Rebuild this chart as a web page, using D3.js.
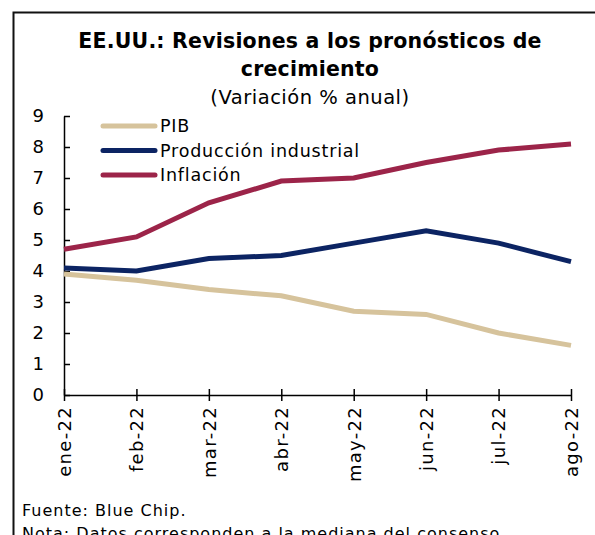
<!DOCTYPE html>
<html>
<head>
<meta charset="utf-8">
<script src="https://cdn.jsdelivr.net/npm/d3@7"></script>
<style>
  body { margin: 0; background: #fff; }
  svg { font-family: "DejaVu Sans", sans-serif; }
</style>
</head>
<body>
<svg id="chart" width="595" height="535"></svg>
<script>
// months on the x axis
const months = ['ene-22', 'feb-22', 'mar-22', 'abr-22', 'may-22', 'jun-22', 'jul-22', 'ago-22'];
// series values (% anual)
const pib = [3.9, 3.7, 3.4, 3.2, 2.7, 2.6, 2.0, 1.6];
const produccion = [4.1, 4.0, 4.4, 4.5, 4.9, 5.3, 4.9, 4.3];
const inflacion = [4.7, 5.1, 6.2, 6.9, 7.0, 7.5, 7.9, 8.1];
const yTicks = [0, 1, 2, 3, 4, 5, 6, 7, 8, 9];

const series = [
    { name: 'PIB', values: pib, color: '#d6c39c' },
    { name: 'Producción industrial', values: produccion, color: '#0c2463' },
    { name: 'Inflación', values: inflacion, color: '#9c2449' }
];

const FONT = '"DejaVu Sans", sans-serif';
const svg = d3.select('#chart');

// frame
svg.append('path')
    .attr('d', 'M13.5,540 V12.5 H600')
    .attr('fill', 'none')
    .attr('stroke', '#111')
    .attr('stroke-width', 2);

// titles
svg.append('text').attr('x', 310).attr('y', 48).attr('text-anchor', 'middle')
    .attr('font-size', 20.5).attr('font-weight', 'bold').attr('letter-spacing', 0.2)
    .text('EE.UU.: Revisiones a los pronósticos de');
svg.append('text').attr('x', 310).attr('y', 76).attr('text-anchor', 'middle')
    .attr('font-size', 20.5).attr('font-weight', 'bold').attr('letter-spacing', 0.2)
    .text('crecimiento');
svg.append('text').attr('x', 310).attr('y', 104).attr('text-anchor', 'middle')
    .attr('font-size', 19.5).attr('letter-spacing', 0.5)
    .text('(Variación % anual)');

const x = d3.scalePoint().domain(months).range([64, 571]);
const y = d3.scaleLinear().domain([0, 9]).range([395, 116]);

// y axis
const yAxis = svg.append('g').attr('transform', 'translate(64,0)')
    .call(d3.axisLeft(y).tickValues(yTicks).tickSizeInner(-6).tickSizeOuter(0).tickPadding(20));
yAxis.select('.domain').attr('stroke', '#000').attr('stroke-width', 1.5);
yAxis.selectAll('.tick line').attr('stroke', '#000').attr('stroke-width', 1.5);
yAxis.selectAll('.tick text').attr('font-size', 18).attr('fill', '#000')
    .attr('font-family', FONT);

// x axis
const xAxis = svg.append('g').attr('transform', 'translate(0,395)')
    .call(d3.axisBottom(x).tickSizeOuter(0).tickSizeInner(6));
xAxis.select('.domain').attr('stroke', '#000').attr('stroke-width', 1.5);
xAxis.selectAll('.tick line').attr('stroke', '#000').attr('stroke-width', 1.5).attr('y1', -6);
xAxis.selectAll('.tick text')
    .attr('font-size', 18).attr('fill', '#000')
    .attr('font-family', FONT)
    .attr('letter-spacing', 1.3)
    .attr('transform', 'rotate(-90)')
    .attr('text-anchor', 'end')
    .attr('x', -11).attr('y', 0).attr('dy', '0.35em');

// lines
const line = d3.line()
    .x((d, i) => x(months[i]))
    .y(d => y(d));

series.forEach(s => {
    svg.append('path')
        .datum(s.values)
        .attr('d', line)
        .attr('fill', 'none')
        .attr('stroke', s.color)
        .attr('stroke-width', 5);
});

// legend
const legend = svg.append('g').attr('transform', 'translate(103,126)');
series.forEach((s, i) => {
    const row = legend.append('g').attr('transform', `translate(0,${i * 24.5})`);
    row.append('line').attr('x1', 0).attr('x2', 52)
        .attr('stroke', s.color).attr('stroke-width', 5).attr('stroke-linecap', 'round');
    row.append('text').attr('x', 57).attr('y', 0).attr('dy', '0.35em')
        .attr('font-size', 17.5).attr('letter-spacing', 0.8).text(s.name);
});

// footer
svg.append('text').attr('x', 22).attr('y', 516).attr('font-size', 16)
    .attr('letter-spacing', 1)
    .text('Fuente: Blue Chip.');
svg.append('text').attr('x', 22).attr('y', 539).attr('font-size', 16)
    .attr('letter-spacing', 1)
    .text('Nota: Datos corresponden a la mediana del consenso');
</script>
</body>
</html>
